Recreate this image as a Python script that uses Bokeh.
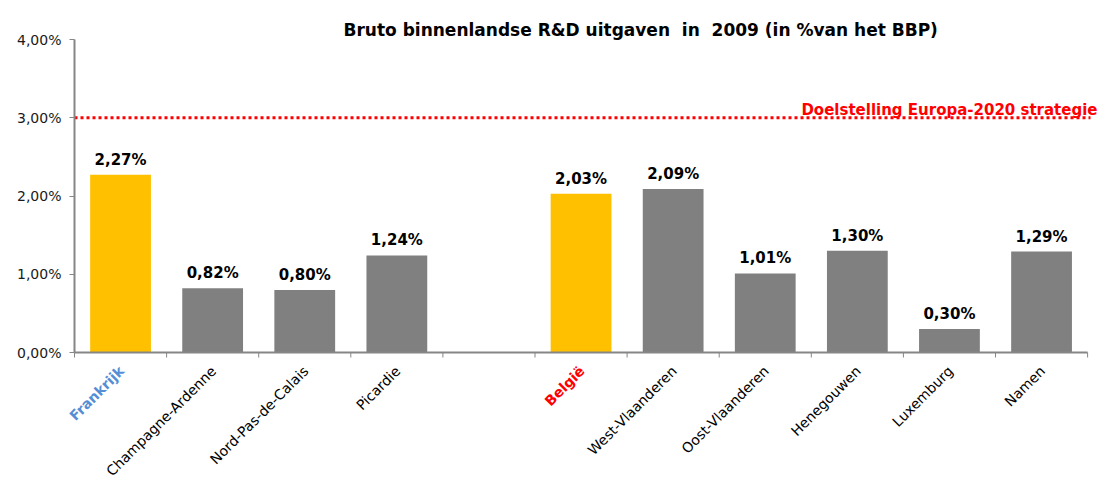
import math
from bokeh.plotting import figure
from bokeh.models import ColumnDataSource, FixedTicker
from bokeh.core.properties import value
from bokeh.embed import file_html
from bokeh.resources import INLINE

title_text = "Bruto binnenlandse R&D uitgaven  in  2009 (in %van het BBP)"
categories = ["Frankrijk", "Champagne-Ardenne", "Nord-Pas-de-Calais", "Picardie", "",
              "België", "West-Vlaanderen", "Oost-Vlaanderen", "Henegouwen", "Luxemburg", "Namen"]
values = [2.27, 0.82, 0.80, 1.24, None, 2.03, 2.09, 1.01, 1.30, 0.30, 1.29]
value_labels = ["2,27%", "0,82%", "0,80%", "1,24%", "", "2,03%", "2,09%", "1,01%", "1,30%", "0,30%", "1,29%"]
bar_colors = ["#FFC000", "#808080", "#808080", "#808080", None,
              "#FFC000", "#808080", "#808080", "#808080", "#808080", "#808080"]
label_colors = ["#558ED5", "black", "black", "black", None,
                "#FF0000", "black", "black", "black", "black", "black"]
label_bold = [True, False, False, False, False, True, False, False, False, False, False]
target = 3.0
target_label = "Doelstelling Europa-2020 strategie"
y_ticks = [0, 1, 2, 3, 4]

AXIS = "#868686"
W, H = 1098, 480
LEFT, TOP = 74, 39          # page position of x=0 and of y=4%
PX_PER_UNIT = 78.25         # vertical pixels per percentage point
SLOT = 92.1
LINE_END = 1090
TITLE_LEFT, TITLE_BASE = 343, 29

n = len(categories)
y_top = max(y_ticks)
y_end = y_top + TOP / PX_PER_UNIT
y_start = y_top - (H - TOP) / PX_PER_UNIT
x_start = -LEFT / SLOT
x_end = (W - LEFT) / SLOT
x_line_end = (LINE_END - LEFT) / SLOT

p = figure(width=W, height=H, output_backend="svg", toolbar_location=None,
           x_range=(x_start, x_end), y_range=(y_start, y_end),
           min_border_left=0, min_border_right=0, min_border_top=0, min_border_bottom=0)
p.outline_line_color = None
p.xgrid.visible = False
p.ygrid.visible = False
p.xaxis.visible = False

# title (as text inside the canvas)
p.text(x=[(TITLE_LEFT - LEFT) / SLOT], y=[y_end], text=[title_text.replace("  ", " \u00a0")],
       text_align="left", text_baseline="alphabetic", y_offset=TITLE_BASE,
       text_font=value("DejaVu Sans"), text_font_size="17px", text_font_style="bold",
       text_color="black")

# y axis placed at x = 0 inside the frame
ya = p.yaxis[0]
ya.fixed_location = 0
ya.bounds = (0, y_top)
ya.ticker = FixedTicker(ticks=y_ticks)
ya.major_label_overrides = {t: f"{t:.2f}".replace(".", ",") + "%" for t in y_ticks}
ya.axis_line_color = AXIS
ya.axis_line_width = 2
ya.major_tick_line_color = AXIS
ya.major_tick_line_width = 1
ya.major_tick_in = 0
ya.major_tick_out = 5
ya.minor_tick_line_color = None
ya.major_label_text_font = "DejaVu Sans"
ya.major_label_text_font_size = "14px"
ya.major_label_text_color = "#1a1a1a"
ya.major_label_standoff = 8

# bars
idx = [i for i, v in enumerate(values) if v is not None]
bars = ColumnDataSource(dict(
    x=[i + 0.5 for i in idx],
    top=[values[i] for i in idx],
    color=[bar_colors[i] for i in idx],
    lab=[value_labels[i] for i in idx],
))
p.vbar(x="x", top="top", width=0.66, bottom=0, fill_color="color", line_color=None, source=bars)
p.text(x="x", y="top", text="lab", source=bars, text_align="center", text_baseline="alphabetic",
       y_offset=-15, text_font=value("DejaVu Sans"), text_font_size="15px",
       text_font_style="bold", text_color="black")

# x axis line and ticks
p.segment(x0=[0], y0=[0], x1=[n], y1=[0], line_color=AXIS, line_width=2)
tick_len = 5 / PX_PER_UNIT
p.segment(x0=list(range(n + 1)), y0=[0] * (n + 1), x1=list(range(n + 1)),
          y1=[-tick_len] * (n + 1), line_color=AXIS, line_width=1)

# category labels
for bold in (False, True):
    sel = [i for i in range(n) if categories[i] and label_bold[i] == bold]
    src = ColumnDataSource(dict(
        x=[i + 0.5 for i in sel], y=[0] * len(sel),
        t=[categories[i] for i in sel], c=[label_colors[i] for i in sel]))
    p.text(x="x", y="y", text="t", text_color="c", source=src, angle=math.pi / 4,
           text_align="right", text_baseline="middle", x_offset=1, y_offset=16,
           text_font=value("DejaVu Sans"), text_font_size="14px",
           text_font_style="bold" if bold else "normal")

# target line and its label
p.segment(x0=[0], y0=[target], x1=[x_line_end], y1=[target], line_color="#FF0000",
          line_width=3, line_dash="3 3")
p.text(x=[x_end], y=[target], text=[target_label], text_align="right",
       text_baseline="alphabetic", x_offset=-1, y_offset=-8, text_color="#FF0000",
       text_font=value("DejaVu Sans"), text_font_size="15px", text_font_style="bold")

open("out.html", "w").write(file_html(p, INLINE))
